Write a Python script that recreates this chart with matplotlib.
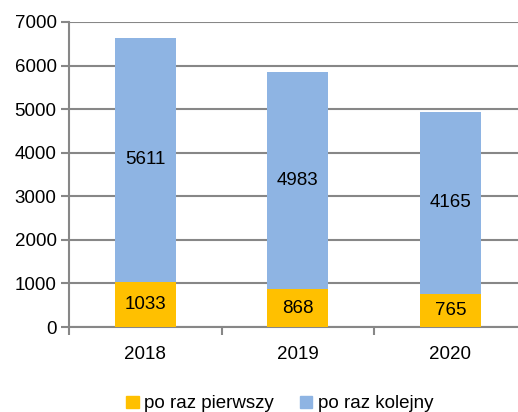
import matplotlib
matplotlib.use("Agg")
import matplotlib.pyplot as plt
from matplotlib.patches import Patch
import numpy as np

years = ["2018", "2019", "2020"]
pierwszy = [1033, 868, 765]
kolejny = [5611, 4983, 4165]
yticks = [0, 1000, 2000, 3000, 4000, 5000, 6000, 7000]
series_names = ["po raz pierwszy", "po raz kolejny"]

plt.rcParams['font.family'] = ['Liberation Sans', 'DejaVu Sans']

W, H = 518, 412
fig = plt.figure(figsize=(W / 100, H / 100), dpi=100)
left, right, top, bottom = 69, 526.5, 22, 327
ax = fig.add_axes([left / W, 1 - bottom / H, (right - left) / W, (bottom - top) / H])

x = np.arange(len(years))
yellow = "#FFC000"
blue = "#8EB4E3"
fs = 13.5
b1 = ax.bar(x, pierwszy, width=0.4, color=yellow, zorder=3)
b2 = ax.bar(x, kolejny, width=0.4, bottom=pierwszy, color=blue, zorder=3)
ax.bar_label(b1, labels=[str(v) for v in pierwszy], label_type='center', fontsize=fs, color='black')
ax.bar_label(b2, labels=[str(v) for v in kolejny], label_type='center', fontsize=fs, color='black')

ax.set_xlim(-0.5, len(years) - 0.5)
ax.set_ylim(0, 7000)
ax.set_yticks(yticks)
ax.set_yticklabels([str(t) for t in yticks], fontsize=fs)
ax.set_xticks(x)
ax.set_xticklabels(years, fontsize=fs)
ax.set_xticks(np.arange(len(years) + 1) - 0.5, minor=True)
ax.tick_params(axis='x', which='major', length=0, pad=14)
ax.tick_params(axis='x', which='minor', length=6, width=1.5, color='#878787')
ax.tick_params(axis='y', length=6, width=1.5, color='#878787', pad=3)

ax.grid(axis='y', color='#878787', linewidth=1.5, zorder=0)
ax.set_axisbelow(True)
for s in ['top', 'right']:
    ax.spines[s].set_visible(False)
for s in ['left', 'bottom']:
    ax.spines[s].set_color('#878787')
    ax.spines[s].set_linewidth(1.5)

handles = [Patch(color=yellow), Patch(color=blue)]
fig.legend(handles, series_names, loc='center', bbox_to_anchor=(280 / W, 1 - 404 / H),
           ncol=2, frameon=False, fontsize=fs, handlelength=0.65, handleheight=0.65,
           handletextpad=0.3, columnspacing=1.4, borderpad=0)

fig.savefig("out.png", dpi=100)
